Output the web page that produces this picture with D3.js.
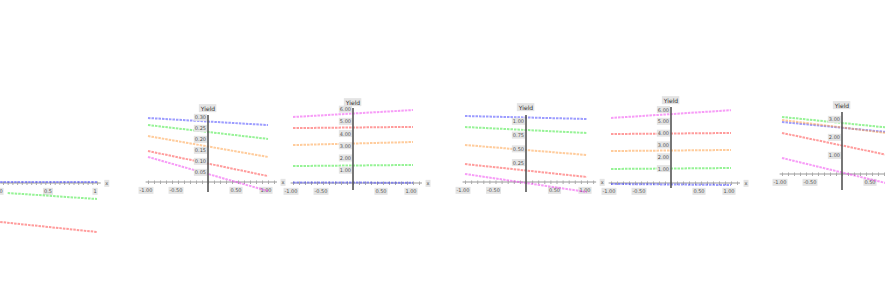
<!DOCTYPE html>
<html>
<head>
  <meta charset="UTF-8">
  <title>Panels</title>
  <script src="https://d3js.org/d3.v7.min.js"></script>
  <style>
    body { margin:0; background:#fff; }
    text { font-family: "DejaVu Sans", sans-serif; }
  </style>
</head>
<body>
<svg id="chart" width="885" height="288"></svg>
<script>
// series order and colours
const seriesKeys = ['blue','green','orange','red','magenta'];
const colors = {blue:'#3a3aff', green:'#2ee82e', orange:'#ff9a3a', red:'#ff3a3a', magenta:'#f03af0'};

const panelTitles = ['', 'Yield', 'Yield', 'Yield', 'Yield', 'Yield'];
const xTickValues = [-1, -0.5, 0.5, 1];
const xTickLabels = ['-1.00', '-0.50', '0.50', '1.00'];
const p1XTickValues = [-1, 0, 1];
const p1XTickLabels = ['0', '0.5', '1'];

// [x, y] pairs
const p1Data = {
  blue:  [[-1.06, 0.05], [1, 0.05]],
  green: [[-0.9, -0.5], [1, -0.8]],
  red:   [[-1.06, -1.95], [1, -2.45]]
};
const p2Data = {
  blue:    [[-1, 0.300], [1, 0.268]],
  green:   [[-1, 0.268], [1, 0.205]],
  orange:  [[-1, 0.218], [1, 0.123]],
  red:     [[-1, 0.150], [1, 0.036]],
  magenta: [[-1, 0.123], [1, -0.032]]
};
const p2YTicks = [0.05, 0.10, 0.15, 0.20, 0.25, 0.30];
const p3Data = {
  blue:    [[-1, 0.05], [1, 0.02]],
  green:   [[-1, 1.39], [1, 1.48]],
  orange:  [[-1, 3.11], [1, 3.36]],
  red:     [[-1, 4.50], [1, 4.60]],
  magenta: [[-1, 5.41], [1, 5.98]]
};
const p3YTicks = [1, 2, 3, 4, 5, 6];
const p4Data = {
  blue:    [[-1, 1.109], [1, 1.055]],
  green:   [[-1, 0.909], [1, 0.800]],
  orange:  [[-1, 0.582], [1, 0.400]],
  red:     [[-1, 0.236], [1, 0.000]],
  magenta: [[-1, 0.055], [1, -0.273]]
};
const p4YTicks = [0.25, 0.5, 0.75, 1.0];
const p5Data = {
  blue:    [[-1, -0.25], [1, -0.34]],
  green:   [[-1, 1.02], [1, 1.10]],
  orange:  [[-1, 2.54], [1, 2.63]],
  red:     [[-1, 3.98], [1, 4.07]],
  magenta: [[-1, 5.34], [1, 6.00]]
};
const p5YTicks = [1, 2, 3, 4, 5, 6];
const p6Data = {
  blue:    [[-1, 2.89], [1, 2.25]],
  green:   [[-1, 3.17], [1, 2.50]],
  orange:  [[-1, 3.00], [1, 2.17]],
  red:     [[-1, 2.28], [1, 0.89]],
  magenta: [[-1, 0.89], [1, -0.72]]
};
const p6YTicks = [1, 2, 3];

// layout of each small panel (pixels)
const panels = [
  {data:p1Data, yTicks:[], fmt:'.2f', cx:50, xs:47, ay:183, y0:183, ppu:20, showY:false, xt:p1XTickValues, xl:p1XTickLabels, xMin:-1.06, xMax:1.08},
  {data:p2Data, yTicks:p2YTicks, fmt:'.2f', cx:208, xs:60, ay:182, y0:184, ppu:220, yTop:115, yBot:192, titleY:109},
  {data:p3Data, yTicks:p3YTicks, fmt:'.2f', cx:353, xs:60, ay:183, y0:183, ppu:12.2, yTop:108, yBot:190, titleY:103},
  {data:p4Data, yTicks:p4YTicks, fmt:'.2f', cx:526, xs:61, ay:182, y0:177, ppu:55, yTop:115, yBot:192, titleY:108},
  {data:p5Data, yTicks:p5YTicks, fmt:'.2f', cx:671, xs:60, ay:183, y0:181, ppu:11.8, yTop:107, yBot:188, titleY:101},
  {data:p6Data, yTicks:p6YTicks, fmt:'.2f', cx:842, xs:60, ay:174, y0:174, ppu:18, yTop:112, yBot:190, titleY:106}
];

const W = 885;
const svg = d3.select('#chart');
svg.append('rect').attr('width', W).attr('height', 288).attr('fill', '#fff');

function boxLabel(g, x, y, txt, size, anchor, fill){
  const t = g.append('text')
    .attr('x', x).attr('y', y)
    .attr('font-size', size)
    .attr('text-anchor', anchor)
    .attr('dominant-baseline', 'middle')
    .attr('fill', fill)
    .text(txt);
  const b = t.node().getBBox();
  // the strip is cut at the right edge: leave out labels that would fall off it
  if(b.x + b.width > W - 1){ t.remove(); return; }
  g.insert('rect', () => t.node())
    .attr('x', b.x - 1).attr('y', b.y - 0.5)
    .attr('width', b.width + 2).attr('height', b.height + 1)
    .attr('fill', '#e4e4e4');
}

panels.forEach((p, i) => {
  const g = svg.append('g');
  const x = d3.scaleLinear().domain([-1, 1]).range([p.cx - p.xs, p.cx + p.xs]);
  const y = d3.scaleLinear().domain([0, 1]).range([p.y0, p.y0 - p.ppu]);
  const xMin = p.xMin ?? -1.04, xMax = p.xMax ?? 1.15;

  // x axis with fine ticks
  const xa = d3.axisBottom(x)
    .tickValues(d3.range(Math.ceil(xMin * 10), Math.floor(xMax * 10) + 1).map(v => v / 10))
    .tickSizeInner(2).tickSizeOuter(0).tickFormat('');
  const axG = g.append('g').attr('transform', `translate(0,${p.ay})`).call(xa);
  axG.select('.domain').attr('d', `M${x(xMin)},0H${x(xMax)}`).attr('stroke', '#9a9a9a').attr('stroke-width', 1.2);
  axG.selectAll('.tick line').attr('stroke', '#aaa').attr('y1', -1.5);

  const xt = p.xt || xTickValues, xl = p.xl || xTickLabels;
  xt.forEach((v, k) => boxLabel(g, x(v) - 2, p.ay + 9, xl[k], 5, 'middle', '#555'));
  boxLabel(g, x(xMax) + 6, p.ay + 1, 'x', 5, 'middle', '#555');

  // series
  const line = d3.line().x(d => x(d[0])).y(d => y(d[1]));
  seriesKeys.forEach(k => {
    if(!p.data[k]) return;
    g.append('path')
      .datum(p.data[k])
      .attr('d', line)
      .attr('fill', 'none')
      .attr('stroke', colors[k])
      .attr('stroke-width', 2)
      .attr('stroke-opacity', 0.5)
      .attr('stroke-dasharray', '2.5,1');
  });

  if(p.showY === false) return;

  // y axis
  g.append('line')
    .attr('x1', p.cx).attr('x2', p.cx)
    .attr('y1', p.yTop).attr('y2', p.yBot)
    .attr('stroke', '#555').attr('stroke-width', 1.6);
  const f = d3.format(p.fmt);
  p.yTicks.forEach(v => boxLabel(g, p.cx - 2, y(v), f(v), 5, 'end', '#555'));

  boxLabel(g, p.cx, p.titleY, panelTitles[i], 6, 'middle', '#333');
});
</script>
</body>
</html>
